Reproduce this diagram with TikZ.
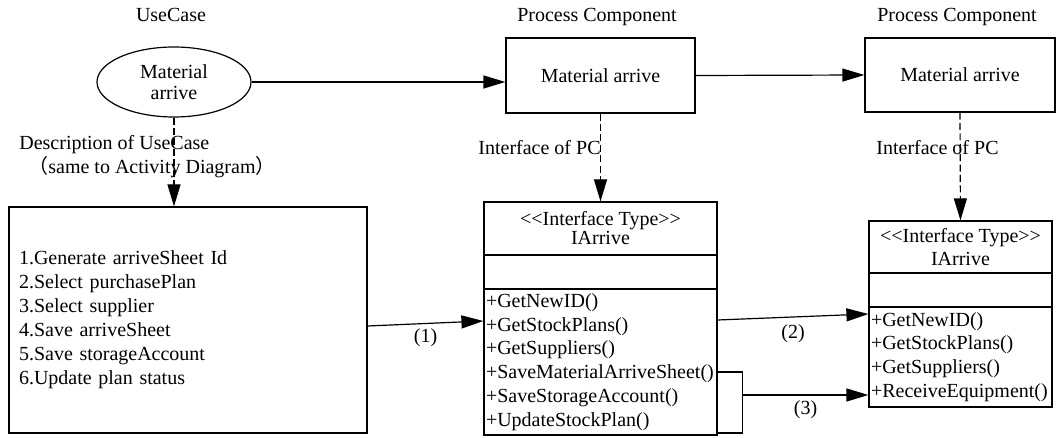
\documentclass[tikz,border=0pt]{standalone}
\usepackage{fontspec}
\setmainfont{Liberation Serif}
\newfontfamily\cjk{Noto Sans CJK SC}
\usetikzlibrary{arrows.meta,shapes.geometric,calc}
\begin{document}
\begin{tikzpicture}[x=0.5pt,y=-0.5pt,
  every node/.style={font=\fontsize{10}{11.9}\selectfont, inner sep=0pt},
  box/.style={draw, line width=0.6pt, rectangle},
  arr/.style={-{Triangle[length=11pt,width=6.5pt]}, line width=0.6pt},
  darr/.style={arr, dash pattern=on 3.5pt off 1.7pt}]
\useasboundingbox (0,0) rectangle (1057,438);

% labels
\node (ucl) at (171,15) {UseCase};
\node (pcl1) at (597,17) {Process Component};
\node (pcl2) at (957,17) {Process Component};
\node[anchor=west] (dl1) at (19,145) {Description of UseCase};
\node[anchor=west] (dl2) at (28,167) {{\cjk （}same to Activity Diagram{\cjk ）}};
\node[anchor=east] (ifl1) at (601,148) {Interface of PC};
\node (ifl2) at (937.5,148) {Interface of PC};

% top row
\node[draw, line width=0.6pt, ellipse, minimum width=77pt, minimum height=35pt, align=center,
      font=\fontsize{10}{10.5}\selectfont] (uc) at (174,82) {Material\\arrive};
\node[box, minimum width=94.5pt, minimum height=37.5pt] (pc1) at (600.5,75.5) {Material arrive};
\node[box, minimum width=95pt, minimum height=37pt] (pc2) at (960,75) {Material arrive};

% description box
\node[box, minimum width=179pt, minimum height=113pt, text width=169pt, inner xsep=5pt,
      align=left, font=\fontsize{10}{12}\selectfont] (desc) at (188,320)
  {1.Generate arriveSheet Id\\2.Select purchasePlan\\3.Select supplier\\4.Save arriveSheet\\5.Save storageAccount\\6.Update plan status};

% interface 1
\node[box, minimum width=116.5pt, minimum height=26.5pt, align=center,
      font=\fontsize{10}{9.5}\selectfont] (i1h) at (600.5,228.5)
  {<\kern0pt<Interface Type>\kern0pt>\\IArrive};
\node[box, minimum width=116.5pt, minimum height=17pt] (i1e) at (600.5,272) {};
\node[box, minimum width=116.5pt, minimum height=73pt, text width=114.5pt, inner xsep=1pt,
      align=left] (i1m) at (600.5,362)
  {+GetNewID()\\+GetStockPlans()\\+GetSuppliers()\\+SaveMaterialArriveSheet()\\+SaveStorageAccount()\\+UpdateStockPlan()};

% interface 2
\node[box, minimum width=91.5pt, minimum height=26pt, align=center,
      font=\fontsize{10}{11.5}\selectfont] (i2h) at (960.5,247)
  {<\kern0pt<Interface Type>\kern0pt>\\IArrive};
\node[box, minimum width=91.5pt, minimum height=17pt] (i2e) at (960.5,290) {};
\node[box, minimum width=91.5pt, minimum height=50pt, text width=89.5pt, inner xsep=1pt,
      align=left] (i2m) at (960.5,357)
  {+GetNewID()\\+GetStockPlans()\\+GetSuppliers()\\+ReceiveEquipment()};

% connectors
\draw[arr] (uc.east) -- (uc.east -| pc1.west);
\draw[arr] (pc1.east) -- (pc2.west);
\draw[darr] (uc.south) -- (uc.south |- desc.north);
\draw[darr] (pc1.south) -- (i1h.north);
\draw[darr] (pc2.south) -- (i2h.north);

\draw[arr] ([yshift=-3pt]desc.east) -- node[below=2.5pt] (n1) {(1)} ([yshift=20.5pt]i1m.west);
\draw[arr] ([yshift=21pt]i1m.east) -- node[below=3.5pt] (n2) {(2)} ([yshift=21.5pt]i2m.west);

\coordinate (b1) at ([yshift=-5pt]i1m.east);
\coordinate (b2) at ([yshift=-35.5pt]i1m.east);
\coordinate (bx) at ([xshift=12.5pt]b1);
\coordinate (e3) at ([yshift=-19pt]i2m.west);
\draw[line width=0.6pt] (b1) -- (bx) |- (b2);
\draw[arr] (bx |- e3) -- node[below=2.5pt] (n3) {(3)} (e3);
\end{tikzpicture}
\end{document}
